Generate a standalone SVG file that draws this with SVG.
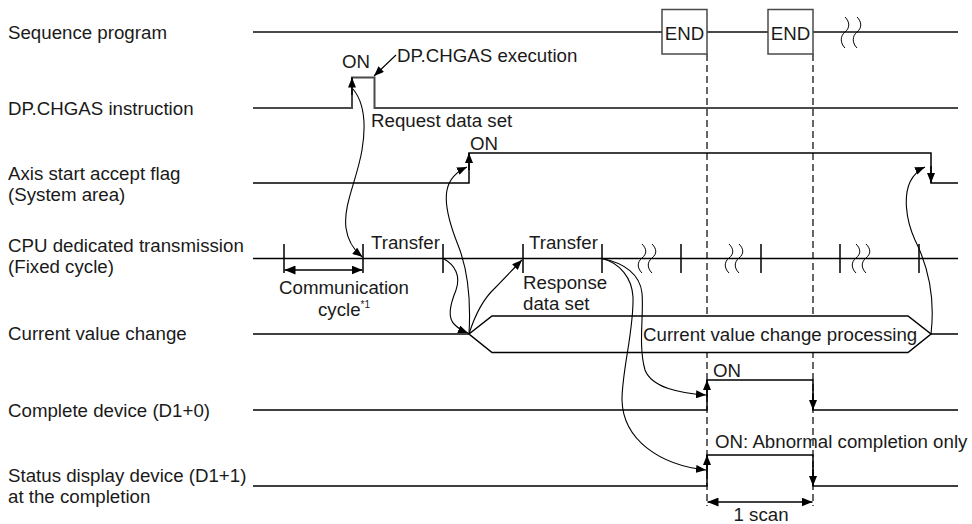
<svg xmlns="http://www.w3.org/2000/svg" width="972" height="524" viewBox="0 0 972 524">
<defs>
<marker id="ah" viewBox="0 0 10 8" refX="10" refY="4" markerWidth="10" markerHeight="8" markerUnits="userSpaceOnUse" orient="auto">
<path d="M0,0 L10,4 L0,8 Z" fill="#000"/>
</marker>
<marker id="ah2" viewBox="0 0 11 9" refX="11" refY="4.5" markerWidth="11" markerHeight="9" markerUnits="userSpaceOnUse" orient="auto-start-reverse">
<path d="M0,0 L11,4.5 L0,9 Z" fill="#000"/>
</marker>
</defs>
<style>
text{font-family:"Liberation Sans",Arial,sans-serif;font-size:18.7px;fill:#1a1a1a}
.sm{font-size:10px}
.gl{fill:none;stroke:#4a4a4a;stroke-width:2}
.sig{fill:none;stroke:#000;stroke-width:1.5}
.hex{fill:#fff;stroke:#000;stroke-width:1.5}
.tick{stroke:#000;stroke-width:1.5}
.brk{fill:none;stroke:#000;stroke-width:1}
.edge{stroke:#000;stroke-width:1.5;marker-end:url(#ah)}
.dash{stroke:#000;stroke-width:1.2;stroke-dasharray:7,4;fill:none}
.conn{fill:none;stroke:#000;stroke-width:1.1;marker-end:url(#ah)}
.dim{stroke:#000;stroke-width:1.5;marker-start:url(#ah2);marker-end:url(#ah2)}
</style>
<rect width="972" height="524" fill="#fff"/>

<g id="scan-timing">
<line class="dash" x1="707" y1="54" x2="707" y2="506"/>
<line class="dash" x1="813" y1="54" x2="813" y2="506"/>
<line class="dim" x1="707.5" y1="502" x2="812.5" y2="502"/>
<text x="761" y="521" text-anchor="middle">1 scan</text>
</g>

<g id="sequence-program">
<text x="8" y="39">Sequence program</text>
<line class="gl" x1="253" y1="32" x2="958" y2="32"/>
<rect x="662" y="9.5" width="45" height="44.5" fill="#fff" stroke="#4a4a4a" stroke-width="1.5"/>
<text x="684.5" y="39.5" text-anchor="middle">END</text>
<rect x="768" y="9.5" width="45" height="44.5" fill="#fff" stroke="#4a4a4a" stroke-width="1.5"/>
<text x="790.5" y="39.5" text-anchor="middle">END</text>
<path class="brk" d="M845,17 c5,5 5,11 0,15 c-5,4 -5,11 0,16 M857,17 c5,5 5,11 0,15 c-5,4 -5,11 0,16"/>
</g>

<g id="dp-chgas-instruction">
<text x="8" y="115">DP.CHGAS instruction</text>
<polyline class="gl" points="253,108 352,108 352,77.5 374.5,77.5 374.5,108 958,108"/>
<line class="edge" x1="352" y1="95" x2="352" y2="77.5"/>
<text x="342" y="68">ON</text>
<text x="397" y="62">DP.CHGAS execution</text>
<text x="371" y="127">Request data set</text>
</g>

<g id="axis-start-accept-flag">
<text x="8" y="180">Axis start accept flag</text>
<text x="8" y="201">(System area)</text>
<polyline class="sig" points="253,183 469,183 469,153 931,153 931,183 958,183"/>
<line class="edge" x1="469" y1="170" x2="469" y2="153"/>
<line class="edge" x1="931" y1="166" x2="931" y2="183"/>
<text x="470" y="149.5">ON</text>
</g>

<g id="cpu-dedicated-transmission">
<text x="8" y="252">CPU dedicated transmission</text>
<text x="8" y="273">(Fixed cycle)</text>
<line class="sig" x1="253" y1="258.5" x2="958" y2="258.5"/>
<path class="tick" d="M284,244V273 M363,244V273 M443,244V273 M523,244V273 M602,244V273 M681,244V273 M761,244V273 M840,244V273 M919,244V273"/>
<path class="brk" d="M642,244 c5,5 5,10 0,14 c-5,4 -5,10 0,15 M652,244 c5,5 5,10 0,14 c-5,4 -5,10 0,15 M729,244 c5,5 5,10 0,14 c-5,4 -5,10 0,15 M739,244 c5,5 5,10 0,14 c-5,4 -5,10 0,15 M856,244 c5,5 5,10 0,14 c-5,4 -5,10 0,15 M866,244 c5,5 5,10 0,14 c-5,4 -5,10 0,15"/>
<text x="371" y="249">Transfer</text>
<text x="529" y="249">Transfer</text>
<line class="dim" x1="284.5" y1="270" x2="362.5" y2="270"/>
<text x="344" y="294" text-anchor="middle">Communication</text>
<text x="318" y="316">cycle<tspan class="sm" dy="-8">*1</tspan></text>
<text x="523" y="289">Response</text>
<text x="523" y="310">data set</text>
</g>

<g id="current-value-change">
<text x="8" y="340">Current value change</text>
<line class="sig" x1="253" y1="334" x2="469" y2="334"/>
<path class="hex" d="M469,334 L492,316 L908,316 L931,334 L908,352.5 L492,352.5 Z"/>
<line class="sig" x1="931" y1="334" x2="958" y2="334"/>
<text x="643" y="340.5">Current value change processing</text>
</g>

<g id="complete-device">
<text x="8" y="417">Complete device (D1+0)</text>
<polyline class="sig" points="253,410 707,410 707,380 813,380 813,410 958,410"/>
<line class="edge" x1="707" y1="397" x2="707" y2="380"/>
<line class="edge" x1="813" y1="393" x2="813" y2="410"/>
<text x="713" y="376.5">ON</text>
</g>

<g id="status-display-device">
<text x="8" y="482">Status display device (D1+1)</text>
<text x="8" y="503">at the completion</text>
<polyline class="sig" points="253,486 707,486 707,455 813,455 813,486 958,486"/>
<line class="edge" x1="707" y1="472" x2="707" y2="455"/>
<line class="edge" x1="813" y1="469" x2="813" y2="486"/>
<text x="715" y="448">ON: Abnormal completion only</text>
</g>

<g id="connectors">
<path class="conn" d="M396,55 L374,76"/>
<path class="conn" d="M353,89 C362,100 367,120 362,150 C357,180 343,205 346,228 C348,243 355,251 362.5,257"/>
<path class="conn" d="M444,259 C455,265 461,276 456,290 C450,305 447,318 455,325 C459,329 463,331 468,333"/>
<path class="conn" d="M469,334 C471,300 468,270 458,245 C450,225 444,205 447,190 C449,180 456,172 467,167"/>
<path class="conn" d="M469,334 C474,318 482,300 495,288 C505,278 514,268 522,260"/>
<path class="conn" d="M602,258.5 C625,263 640,275 642,293 C644,315 638,345 645,370 C652,388 680,393 706,395"/>
<path class="conn" d="M602,258.5 C620,263 632,278 633,297 C634,330 622,370 622,400 C623,440 660,465 706,470"/>
<path class="conn" d="M931,334 C935,300 930,270 915,240 C905,218 904,195 910,182 C914,174 918,170 925,167"/>
</g>
</svg>
